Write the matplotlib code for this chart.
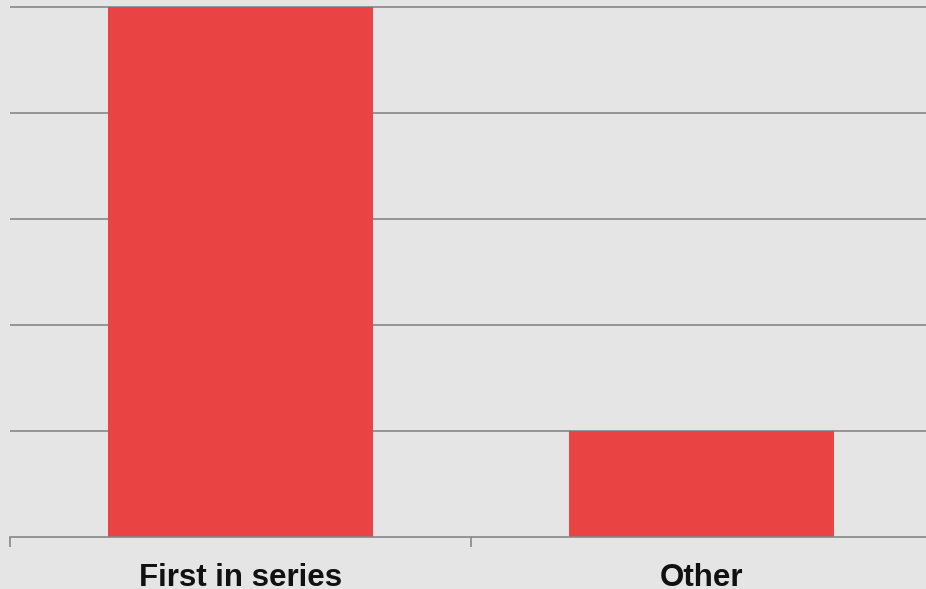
import matplotlib.pyplot as plt
import numpy as np

categories = ['First in series', 'Other']
values = [5, 1]

bg = '#e5e5e5'
grid_col = '#878787'
bar_col = '#e94343'

fig = plt.figure(figsize=(9.26, 5.89), dpi=100, facecolor=bg)
ax = fig.add_axes([10 / 926, 52 / 589, 922 / 926, 535 / 589], facecolor=bg)

x = np.arange(len(categories))
ax.bar(x, values, width=0.573, color=bar_col, zorder=2)

ax.set_xlim(-0.5, 1.5)
ax.set_ylim(0, 535 / 106)
ax.set_yticks([1, 2, 3, 4, 5])
ax.yaxis.grid(True, color=grid_col, linewidth=1.2, zorder=1)
ax.tick_params(axis='y', length=0, labelleft=False)

# categories centred, ticks on the boundaries
ax.set_xticks(x)
ax.set_xticklabels(categories, fontsize=22.5, fontweight='bold',
                   family='Liberation Sans', color='#111111')
ax.tick_params(axis='x', which='major', length=0, pad=19)
ax.set_xticks([-0.5, 0.5, 1.5], minor=True)
ax.tick_params(axis='x', which='minor', length=7, width=1.2, color=grid_col)

for s in ['top', 'right', 'left']:
    ax.spines[s].set_visible(False)
ax.spines['bottom'].set_color(grid_col)
ax.spines['bottom'].set_linewidth(1.2)

fig.savefig('out.png', dpi=100, facecolor=bg)
